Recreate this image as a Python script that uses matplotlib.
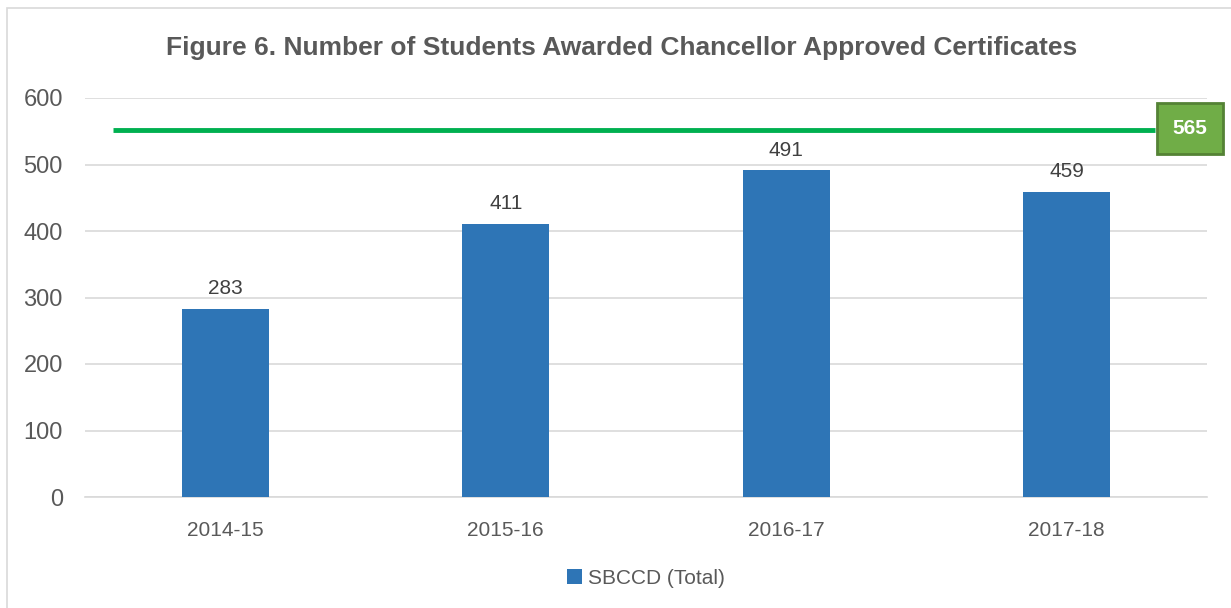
import matplotlib.pyplot as plt
from matplotlib.patches import Rectangle

years = ['2014-15', '2015-16', '2016-17', '2017-18']
students = [283, 411, 491, 459]
target_line = 552
target_label = '565'

plt.rcParams['font.family'] = ['Liberation Sans', 'DejaVu Sans']

fig = plt.figure(figsize=(12.31, 6.08), dpi=100)
# outer chart border (right and bottom edges fall outside the image)
fig.patches.append(Rectangle((7 / 1231, -0.1), 1.2, 1 - 8 / 608 + 0.1,
                             transform=fig.transFigure, fill=False,
                             edgecolor='#d9d9d9', linewidth=1.2))
ax = fig.add_axes([85 / 1231, 1 - 497 / 608, (1207 - 85) / 1231, (497 - 98) / 608])

x = range(len(years))
bars = ax.bar(x, students, width=0.31, color='#2e75b6', label='SBCCD (Total)', zorder=3)
for b, v in zip(bars, students):
    ax.text(b.get_x() + b.get_width() / 2, v + 16, str(v), ha='center', va='bottom',
            fontsize=15, color='#404040')

ax.plot([-0.4, 3.315], [target_line, target_line], color='#00b050', linewidth=3.5, zorder=4,
        solid_capstyle='butt')
ax.text(3.44, target_line + 2, target_label, ha='center', va='center', fontsize=15,
        fontweight='bold', color='white', zorder=6, clip_on=False,
        bbox=dict(boxstyle='square,pad=0.75', facecolor='#70ad47', edgecolor='#548235',
                  linewidth=2))

ax.set_xlim(-0.5, 3.5)
ax.set_ylim(0, 600)
ax.set_yticks(range(0, 601, 100))
ax.set_xticks(list(x))
ax.set_xticklabels(years, fontsize=15, color='#595959')
for lab in ax.get_yticklabels():
    lab.set_fontsize(17)
    lab.set_color('#595959')
ax.tick_params(axis='both', length=0)
ax.tick_params(axis='x', pad=17)
ax.tick_params(axis='y', pad=16)
ax.grid(axis='y', color='#d9d9d9', linewidth=1.2, zorder=0)
for s in ['top', 'right', 'left']:
    ax.spines[s].set_visible(False)
ax.spines['bottom'].set_color('#d9d9d9')
ax.spines['bottom'].set_linewidth(1.2)

fig.text(622 / 1231, 1 - 48 / 608,
         'Figure 6. Number of Students Awarded Chancellor Approved Certificates',
         ha='center', va='center', fontsize=19, fontweight='bold', color='#595959')

ax.legend(loc='center', bbox_to_anchor=(0.5, (497 - 578) / (497 - 98)), frameon=False,
          fontsize=15, handlelength=0.7, handleheight=0.7, handletextpad=0.3,
          labelcolor='#595959')

fig.savefig('out.png', dpi=100)
